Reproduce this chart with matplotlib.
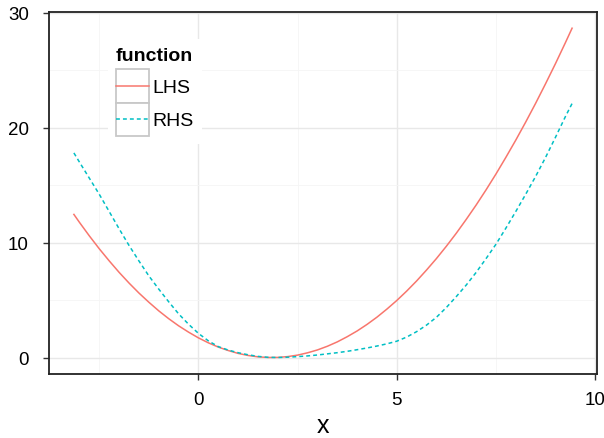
import matplotlib
matplotlib.use('Agg')
import matplotlib.pyplot as plt
from matplotlib.legend_handler import HandlerLine2D
from matplotlib.patches import Rectangle

plt.rcParams['font.family'] = ['Liberation Sans', 'DejaVu Sans']
plt.rcParams['lines.scale_dashes'] = False

# values
x = [-3.14, -3.0, -2.75, -2.5, -2.25, -2.0, -1.75, -1.5, -1.25, -1.0, -0.75, -0.5, -0.25,
     0.0, 0.25, 0.5, 0.75, 1.0, 1.25, 1.5, 1.75, 2.0, 2.25, 2.5, 2.75, 3.0, 3.25, 3.5, 3.75,
     4.0, 4.25, 4.5, 4.75, 5.0, 5.25, 5.5, 5.75, 6.0, 6.25, 6.5, 6.75, 7.0, 7.25, 7.5, 7.75,
     8.0, 8.25, 8.5, 8.75, 9.0, 9.25, 9.42]
lhs = [12.45, 11.76, 10.58, 9.46, 8.41, 7.41, 6.48, 5.61, 4.81, 4.06, 3.38, 2.76, 2.21,
       1.71, 1.28, 0.91, 0.61, 0.36, 0.18, 0.06, 0.005, 0.011, 0.08, 0.21, 0.41, 0.66, 0.98, 1.36, 1.81,
       2.31, 2.88, 3.51, 4.21, 4.96, 5.78, 6.66, 7.61, 8.61, 9.68, 10.81, 12.01, 13.26, 14.58, 15.96, 17.41,
       18.91, 20.48, 22.11, 23.81, 25.56, 27.38, 28.65]
rhs = [17.8, 17.0, 15.6, 14.2, 12.7, 11.2, 9.75, 8.4, 7.1, 5.95, 4.85, 3.8, 2.9,
       2.1, 1.45, 0.95, 0.65, 0.42, 0.24, 0.1, 0.02, 0.0, 0.03, 0.08, 0.14, 0.22, 0.32, 0.42, 0.54,
       0.68, 0.83, 1.0, 1.19, 1.42, 1.78, 2.25, 2.82, 3.5, 4.35, 5.3, 6.3, 7.4, 8.6, 9.85, 11.25,
       12.7, 14.2, 15.75, 17.4, 19.15, 20.95, 22.1]
labels = ['LHS', 'RHS']
colors = ['#F8766D', '#00BFC4']


class BoxHandler(HandlerLine2D):
    # ggplot style legend key: grey square with the line through its middle
    def create_artists(self, legend, orig_handle, xdescent, ydescent, width, height, fontsize, trans):
        box = Rectangle((-xdescent, -ydescent), width, height, facecolor='white',
                        edgecolor='#c8c8c8', lw=1.3, transform=trans)
        arts = list(super().create_artists(legend, orig_handle, xdescent, ydescent, width, height, fontsize, trans))
        ymid = height / 2 - ydescent
        for a in arts:
            a.set_ydata([ymid] * len(a.get_xdata()))
        return [box] + arts


fig = plt.figure(figsize=(6.04, 4.39), dpi=100)
ax = fig.add_axes([0.0811, 0.1458, 0.9073, 0.8252])

l1, = ax.plot(x, lhs, color=colors[0], lw=1.1, label=labels[0])
l2, = ax.plot(x, rhs, color=colors[1], lw=1.1, dashes=(2.8, 2.2), label=labels[1])

# 5% expansion like ggplot
xr = max(x) - min(x)
yall = lhs + rhs
yr = max(yall) - min(yall)
ax.set_xlim(min(x) - 0.05 * xr, max(x) + 0.05 * xr)
ax.set_ylim(min(yall) - 0.05 * yr, max(yall) + 0.05 * yr)

ax.set_xticks([0, 5, 10])
ax.set_yticks([0, 10, 20, 30])
ax.set_xticks([-2.5, 2.5, 7.5], minor=True)
ax.set_yticks([5, 15, 25], minor=True)
ax.grid(which='major', color='#e8e8e8', lw=1.0)
ax.grid(which='minor', color='#f5f5f5', lw=0.6)
ax.set_axisbelow(True)
ax.tick_params(which='minor', length=0)
ax.tick_params(which='major', length=4.5, width=1.0, color='#333333', labelsize=13.5, labelcolor='black')
ax.tick_params(axis='x', pad=8)
ax.tick_params(axis='y', pad=10)
for s in ax.spines.values():
    s.set_color('#222222')
    s.set_linewidth(1.3)

ax.set_xlabel('x', fontsize=18, labelpad=3.5)

bh = {l1: BoxHandler(marker_pad=0.15), l2: BoxHandler(marker_pad=0.15)}
leg = ax.legend(handles=[l1, l2], loc='upper left', bbox_to_anchor=(0.1077, 0.9246),
                title='function', title_fontproperties={'weight': 'bold', 'size': 14},
                fontsize=14, frameon=True, fancybox=False, framealpha=1,
                facecolor='white', edgecolor='none', borderpad=0.4, labelspacing=0,
                handlelength=1.7, handleheight=2.25, handletextpad=0.2, borderaxespad=0,
                alignment='left', handler_map=bh)
leg._legend_box.sep = 4  # gap between title and keys

fig.savefig('out.png', dpi=100)
